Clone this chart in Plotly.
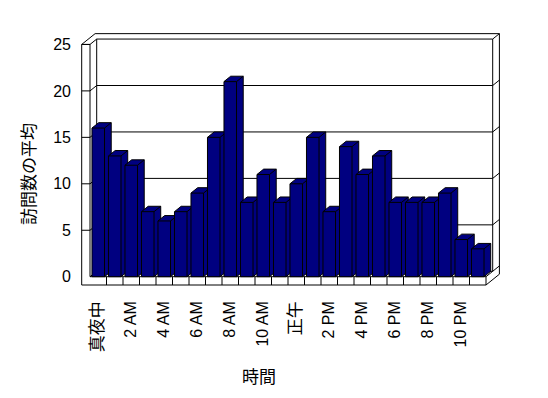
import plotly.graph_objects as go

# ---- data ----
hours = list(range(24))
avg_visits = [16, 13, 12, 7, 6, 7, 9, 15, 21, 8, 11, 8,
              10, 15, 7, 14, 11, 13, 8, 8, 8, 9, 4, 3]
tick_positions = [0, 2, 4, 6, 8, 10, 12, 14, 16, 18, 20, 22]
tick_labels = ["真夜中", "2 AM", "4 AM", "6 AM", "8 AM", "10 AM",
               "正午", "2 PM", "4 PM", "6 PM", "8 PM", "10 PM"]
y_ticks = [0, 5, 10, 15, 20, 25]
y_title = "訪問数の平均"
x_title = "時間"

# ---- geometry (pixel scale of the plot) ----
W, H = 548, 398
L, R, T, B = 80, 504, 30, 290
PX_CAT = 16.5          # pixels per category
PX_UNIT = 9.29         # pixels per value unit
X_ORIGIN_PX = 90       # pixel of category -0.5
Y_ORIGIN_PX = 276.7    # pixel of value 0

xr = [-0.5 + (L - X_ORIGIN_PX) / PX_CAT, -0.5 + (R - X_ORIGIN_PX) / PX_CAT]
yr = [(Y_ORIGIN_PX - B) / PX_UNIT, (Y_ORIGIN_PX - T) / PX_UNIT]

DX = 6.7 / PX_CAT      # depth offset (categories)
DY = 5.4 / PX_UNIT     # depth offset (value units)
TW = 8.3 / PX_CAT      # left wall thickness
TF = 8.3 / PX_UNIT     # floor thickness
X0 = -0.5
X1 = len(hours) - 0.5
YMAX = max(y_ticks)
HALF = 0.38

NAVY = "#000080"
FONT = "Liberation Sans, Arial, Noto Sans CJK JP, sans-serif"

shapes = []


def seg(xa, ya, xb, yb):
    shapes.append(dict(type="line", xref="x", yref="y", x0=xa, y0=ya, x1=xb, y1=yb,
                       line=dict(color="black", width=1), layer="below"))


# left wall + floor front face
seg(X0, YMAX, X0 - TW, YMAX)
seg(X0 - TW, YMAX, X0 - TW, -TF)
seg(X0 - TW, -TF, X1, -TF)
seg(X1, -TF, X1, 0)
seg(X0, YMAX, X0, 0)
seg(X0, 0, X1, 0)
for k in range(1, len(hours)):
    seg(X0 + k, -TF, X0 + k, 0)
# floor right side
seg(X1, -TF, X1 + 2 * DX, -TF + 2 * DY)
seg(X1, 0, X1 + DX, DY)
# wall top
seg(X0 - TW, YMAX, X0 - TW + 2 * DX, YMAX + 2 * DY)
seg(X0 - TW + 2 * DX, YMAX + 2 * DY, X1 + 2 * DX, YMAX + 2 * DY)
seg(X1 + 2 * DX, YMAX + 2 * DY, X1 + 2 * DX, -TF + 2 * DY)
seg(X1 + DX, YMAX + DY, X1 + DX, DY)
seg(X0 + DX, YMAX + DY, X0 + DX, DY)
# gridlines
for v in y_ticks:
    if 0 < v:
        seg(X0 - TW, v, X0, v)
    seg(X0, v, X0 + DX, v + DY)
    seg(X0 + DX, v + DY, X1 + DX, v + DY)
    seg(X1 + DX, v + DY, X1 + 2 * DX, v + 2 * DY)

fig = go.Figure()

for i, v in zip(hours, avg_visits):
    x0, x1 = i - HALF, i + HALF
    fig.add_trace(go.Scatter(
        x=[x0, x0, x0 + DX, x1 + DX, x1 + DX, x1, x0],
        y=[0, v, v + DY, v + DY, DY, 0, 0],
        mode="lines", fill="toself", fillcolor=NAVY,
        line=dict(color="black", width=1), hoverinfo="skip", showlegend=False))
    fig.add_trace(go.Scatter(
        x=[x0, x1, x1, None, x1, x1 + DX],
        y=[v, v, 0, None, v, v + DY],
        mode="lines", line=dict(color="black", width=1),
        hoverinfo="skip", showlegend=False))


def styled(label):
    if any(ord(ch) > 0x2E80 for ch in label):
        return "<span style='font-size:17px'>" + label + "</span>"
    return label


def paper_x(px):
    return (px - L) / (R - L)


def paper_y(py):
    return (B - py) / (B - T)


fig.update_layout(
    width=W, height=H,
    margin=dict(l=L, r=W - R, t=T, b=H - B, pad=0),
    paper_bgcolor="white", plot_bgcolor="white",
    font=dict(family=FONT, size=16, color="black"),
    shapes=shapes,
    xaxis=dict(range=xr, showgrid=False, zeroline=False, showline=False,
               tickmode="array", tickvals=tick_positions,
               ticktext=[styled(t) for t in tick_labels],
               tickangle=-90, ticks="", ticklabelstandoff=7,
               tickfont=dict(size=16)),
    yaxis=dict(range=yr, showgrid=False, zeroline=False, showline=False,
               tickmode="array", tickvals=y_ticks, ticks="",
               ticklabelstandoff=8, tickfont=dict(size=16)),
    annotations=[
        dict(text=y_title, xref="paper", yref="paper", x=paper_x(29), y=paper_y(174),
             showarrow=False, textangle=-90, font=dict(size=17),
             xanchor="center", yanchor="middle"),
        dict(text=x_title, xref="paper", yref="paper", x=paper_x(259), y=paper_y(377),
             showarrow=False, font=dict(size=17), xanchor="center", yanchor="middle"),
    ],
)

fig.write_html("out.html")
